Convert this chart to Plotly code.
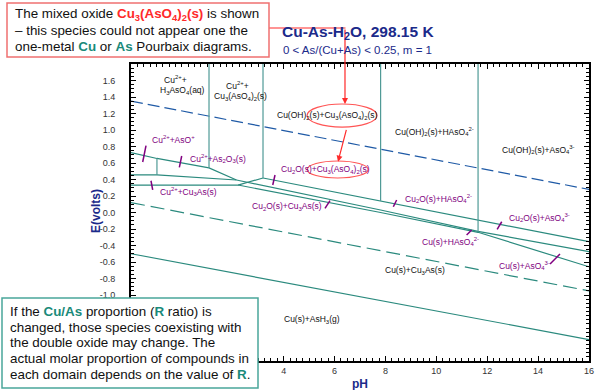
import plotly.graph_objects as go

# ---------------- data (pH, E in volts) ----------------
o2_ph = [-2, 16]
o2_e = [1.35, 0.28]
h2_ph = [-2, 16]
h2_e = [0.12, -0.95]
ash3_ph = [-2, 16]
ash3_e = [-0.50, -1.54]

l1_ph = [-2, -0.98, 1.066, 2.146]
l1_e = [0.727, 0.655, 0.54, 0.394]
l2_ph = [-2, -0.98, 2.146]
l2_e = [0.455, 0.455, 0.394]
l3_ph = [-2, 2.205, 3.188]
l3_e = [0.333, 0.333, 0.418]
top_ph = [3.188, 16]
top_e = [0.418, -0.354]
mid_ph = [2.146, 7.81, 11.64, 16]
mid_e = [0.394, 0.03, -0.228, -0.475]
bot_ph = [2.205, 7.81, 11.64, 16]
bot_e = [0.333, 0.0, -0.24, -0.658]

vert_ph = [-0.98, 1.066, 3.188, 7.81, 11.64]
vert_top = [0.655, 1.8, 1.8, 1.8, 1.8]
vert_bot = [0.455, 0.54, 0.418, 0.139, -0.233]

tick_ph0 = [-1.41, -0.007, -1.214, 3.66, 5.82, 8.44, 12.57, 11.39, 14.86]
tick_ph1 = [-1.54, -0.10, -1.147, 3.57, 5.625, 8.31, 12.39, 11.19, 14.47]
tick_e0 = [0.81, 0.685, 0.385, 0.455, 0.143, 0.152, -0.112, -0.212, -0.503]
tick_e1 = [0.612, 0.548, 0.273, 0.333, 0.051, 0.07, -0.204, -0.273, -0.624]

purple_labels = [
    "Cu<sup>2+</sup>+AsO<sup>+</sup>",
    "Cu<sup>2+</sup>+As<sub>2</sub>O<sub>3</sub>(s)",
    "Cu<sup>2+</sup>+Cu<sub>3</sub>As(s)",
    "Cu<sub>2</sub>O(s)+Cu<sub>3</sub>(AsO<sub>4</sub>)<sub>2</sub>(s)",
    "Cu<sub>2</sub>O(s)+Cu<sub>3</sub>As(s)",
    "Cu<sub>2</sub>O(s)+HAsO<sub>4</sub><sup>2-</sup>",
    "Cu<sub>2</sub>O(s)+AsO<sub>4</sub><sup>3-</sup>",
    "Cu(s)+HAsO<sub>4</sub><sup>2-</sup>",
    "Cu(s)+AsO<sub>4</sub><sup>3-</sup>",
]
purple_ph = [-1.25, 0.228, -0.94, 3.83, 2.677, 8.69, 12.77, 9.36, 12.37]
purple_e = [0.879, 0.657, 0.252, 0.524, 0.07, 0.172, -0.058, -0.354, -0.648]

black_labels = [
    "Cu<sup>2+</sup>+",
    "H<sub>3</sub>AsO<sub>4</sub>(aq)",
    "Cu<sup>2+</sup>+",
    "Cu<sub>3</sub>(AsO<sub>4</sub>)<sub>2</sub>(s)",
    "Cu(OH)<sub>2</sub>(s)+Cu<sub>3</sub>(AsO<sub>4</sub>)<sub>2</sub>(s)",
    "Cu(OH)<sub>2</sub>(s)+HAsO<sub>4</sub><sup>2-</sup>",
    "Cu(OH)<sub>2</sub>(s)+AsO<sub>4</sub><sup>3-</sup>",
    "Cu(s)+Cu<sub>3</sub>As(s)",
    "Cu(s)+AsH<sub>3</sub>(g)",
]
black_ph = [-0.78, -0.94, 1.655, 1.17, 3.66, 8.30, 12.5, 7.90, 3.92]
black_e = [1.618, 1.476, 1.545, 1.404, 1.18, 0.98, 0.758, -0.705, -1.295]

ytick_vals = [-1.0, -0.8, -0.6, -0.4, -0.2, 0.0, 0.2, 0.4, 0.6, 0.8, 1.0, 1.2, 1.4, 1.6]
ytick_text = ["-1.0", "-0.8", "-0.6", "-0.4", "-0.2", "0.0", "0.2", "0.4", "0.6", "0.8", "1.0", "1.2", "1.4", "1.6"]
xtick_vals = [4, 6, 8, 10, 12, 14, 16]
xtick_text = ["4", "6", "8", "10", "12", "14", "16"]

# ---------------- styling ----------------
TEAL = "#2b8a7e"
TEAL2 = "#4f9a96"
BLUE = "#1f5aa6"
PURPLE = "#800080"
NAVY = "#1b2a8a"
RED = "#ff2a2a"
TEXTTEAL = "#1a8a7a"
FONT = "Arial, Liberation Sans, sans-serif"

W, H = 600, 390
L, R, T, B = 131, 589, 64, 361


def px(x):
    return (x - L) / (R - L)


def py(y):
    return (B - y) / (B - T)


fig = go.Figure()


def add_line(xs, ys, color, dash="solid", width=1.2):
    fig.add_trace(go.Scatter(x=xs, y=ys, mode="lines",
                             line=dict(color=color, width=width, dash=dash),
                             hoverinfo="skip", showlegend=False))


add_line(o2_ph, o2_e, BLUE, dash="12px,5px")
add_line(h2_ph, h2_e, TEAL, dash="14px,6px")
add_line(ash3_ph, ash3_e, TEAL)
for xs, ys in [(l1_ph, l1_e), (l2_ph, l2_e), (l3_ph, l3_e), (top_ph, top_e),
               (mid_ph, mid_e), (bot_ph, bot_e)]:
    add_line(xs, ys, TEAL)

vx, vy = [], []
for p, a, b in zip(vert_ph, vert_top, vert_bot):
    vx += [p, p, None]
    vy += [a, b, None]
add_line(vx, vy, TEAL2)

tx, ty = [], []
for a, b, c, d in zip(tick_ph0, tick_ph1, tick_e0, tick_e1):
    tx += [a, b, None]
    ty += [c, d, None]
add_line(tx, ty, PURPLE, width=1.5)

ann = []
for t, x, y in zip(purple_labels, purple_ph, purple_e):
    ann.append(dict(x=x, y=y, text=t, showarrow=False, xanchor="left", yanchor="middle",
                    font=dict(family=FONT, size=8.5, color=PURPLE)))
for t, x, y in zip(black_labels, black_ph, black_e):
    ann.append(dict(x=x, y=y, text=t, showarrow=False, xanchor="left", yanchor="middle",
                    font=dict(family=FONT, size=8.5, color="#111111")))

shapes = []
# red ellipses
shapes.append(dict(type="circle", xref="x", yref="y", x0=4.92, x1=7.67, y0=1.036, y1=1.315,
                   line=dict(color="#ff5555", width=1.2)))
shapes.append(dict(type="circle", xref="x", yref="y", x0=4.92, x1=7.32, y0=0.418, y1=0.624,
                   line=dict(color="#ff5555", width=1.2)))

# arrows
ann.append(dict(x=6.41, y=1.315, ax=0, ay=-76, text="", showarrow=True, arrowhead=2,
                arrowsize=1, arrowwidth=1.2, arrowcolor=RED))
ann.append(dict(x=6.136, y=0.616, ax=8.7, ay=-33.4, text="", showarrow=True, arrowhead=2,
                arrowsize=1, arrowwidth=1.2, arrowcolor=RED))
shapes.append(dict(type="line", xref="paper", yref="paper", x0=px(269), x1=px(345.5),
                   y0=py(28), y1=py(28), line=dict(color=RED, width=1.2)))

# top box
shapes.append(dict(type="rect", xref="paper", yref="paper", x0=px(7), x1=px(269),
                   y0=py(57), y1=py(3), fillcolor="white", layer="above",
                   line=dict(color="#f07070", width=1.5)))
top_lines = [
    "The mixed oxide <b><span style='color:%s'>Cu<sub>3</sub>(AsO<sub>4</sub>)<sub>2</sub>(s)</span></b> is shown" % RED,
    "– this species could not appear one the",
    "one-metal <b><span style='color:%s'>Cu</span></b> or <b><span style='color:%s'>As</span></b> Pourbaix diagrams." % (TEXTTEAL, TEXTTEAL),
]
for t, yy in zip(top_lines, [14, 31, 47]):
    ann.append(dict(xref="paper", yref="paper", x=px(13), y=py(yy), text=t, showarrow=False,
                    xanchor="left", yanchor="middle",
                    font=dict(family=FONT, size=13.4, color="#111111")))

# bottom box
shapes.append(dict(type="rect", xref="paper", yref="paper", x0=px(2), x1=px(258),
                   y0=py(388), y1=py(298), fillcolor="white", layer="above",
                   line=dict(color="#4aa69a", width=1.5)))
bot_lines = [
    "If the <b><span style='color:%s'>Cu/As</span></b> proportion (<b><span style='color:%s'>R</span></b> ratio) is" % (TEXTTEAL, TEXTTEAL),
    "changed, those species coexisting with",
    "the double oxide may change. The",
    "actual molar proportion of compounds in",
    "each domain depends on the value of <b><span style='color:%s'>R</span></b>." % TEXTTEAL,
]
for t, yy in zip(bot_lines, [311.7, 327.3, 342.7, 358.3, 374]):
    ann.append(dict(xref="paper", yref="paper", x=px(8), y=py(yy), text=t, showarrow=False,
                    xanchor="left", yanchor="middle",
                    font=dict(family=FONT, size=13.4, color="#111111")))

# titles
ann.append(dict(xref="paper", yref="paper", x=px(280), y=py(33), showarrow=False,
                text="<b>Cu-As-H<sub>2</sub>O, 298.15 K</b>", xanchor="left", yanchor="middle",
                font=dict(family=FONT, size=15.5, color=NAVY)))
ann.append(dict(xref="paper", yref="paper", x=px(281), y=py(50), showarrow=False,
                text="0 &lt; As/(Cu+As) &lt; 0.25, m = 1", xanchor="left", yanchor="middle",
                font=dict(family=FONT, size=11.5, color=NAVY)))
ann.append(dict(xref="paper", yref="paper", x=px(96), y=py(211), showarrow=False,
                text="<b>E(volts)</b>", textangle=-90, xanchor="center", yanchor="middle",
                font=dict(family=FONT, size=12, color=NAVY)))
ann.append(dict(xref="paper", yref="paper", x=px(360), y=py(384), showarrow=False,
                text="<b>pH</b>", xanchor="center", yanchor="middle",
                font=dict(family=FONT, size=12, color=NAVY)))

axis_common = dict(showgrid=False, zeroline=False, showline=True, linecolor="black",
                   linewidth=2, mirror="ticks", ticks="inside", ticklen=5, tickwidth=1,
                   tickcolor="black", tickfont=dict(family=FONT, size=9, color="#333333"))

fig.update_layout(
    width=W, height=H,
    margin=dict(l=L, r=W - R, t=T, b=H - B, autoexpand=False),
    paper_bgcolor="white", plot_bgcolor="white",
    xaxis=dict(range=[-2, 16], tickvals=xtick_vals, ticktext=xtick_text,
               minor=dict(ticks="inside", ticklen=3, dtick=0.25, tickcolor="black", showgrid=False),
               **axis_common),
    yaxis=dict(range=[-1.8, 1.8], tickvals=ytick_vals, ticktext=ytick_text,
               ticklabelstandoff=12,
               minor=dict(ticks="inside", ticklen=3, dtick=0.05, tickcolor="black", showgrid=False),
               **axis_common),
    shapes=shapes,
    annotations=ann,
    showlegend=False,
)

fig.write_html("out.html", config={"displayModeBar": False},
               post_script="document.body.style.margin='0';")
